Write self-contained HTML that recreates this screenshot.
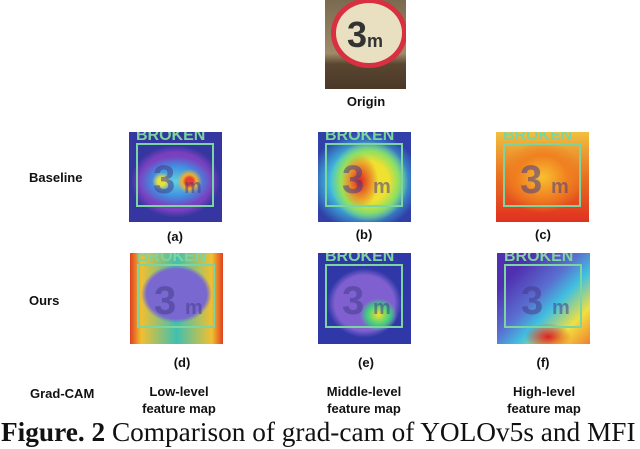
<!DOCTYPE html>
<html><head><meta charset="utf-8"><style>
body{margin:0;width:640px;height:449px;background:#fff;position:relative;overflow:hidden;font-family:"Liberation Sans",sans-serif}
.t{position:absolute;font-weight:bold;font-size:13px;color:#111;text-align:center;line-height:17px;white-space:nowrap}
.l{text-align:left}
.img{position:absolute;width:93px;height:90px;overflow:hidden;background:#3a3aa0}
.img .box{position:absolute;left:7px;top:11px;width:78px;height:64px;border:2px solid #7cd4a0;box-sizing:border-box}
.img .bk{position:absolute;left:7px;top:-5px;font-size:16px;font-weight:bold;color:#7cd4a0}
.img .n{position:absolute;left:24px;top:26px;font:bold 40px "Liberation Sans",sans-serif;color:rgba(70,60,140,.55)}
.img .m{position:absolute;left:55px;top:44px;font:bold 20px "Liberation Sans",sans-serif;color:rgba(70,60,140,.55)}
</style></head><body>
<div style="position:absolute;left:325px;top:0;width:81px;height:89px;background:linear-gradient(#7a6a50 0%,#a08a68 60%,#5a4630 72%,#4a3828 100%);overflow:hidden">
 <div style="position:absolute;left:6px;top:-2px;width:76px;height:70px;border-radius:50%;background:#e8e0c0;border:5px solid #d83040;box-sizing:border-box"></div>
 <div style="position:absolute;left:22px;top:14px;font:bold 36px 'Liberation Sans',sans-serif;color:#333">3<span style="font-size:18px">m</span></div>
</div>
<div class="t" style="left:326px;top:93px;width:80px">Origin</div>

<div class="t l" style="left:29px;top:169px">Baseline</div>
<div class="t l" style="left:29px;top:292px">Ours</div>
<div class="t l" style="left:30px;top:385px">Grad-CAM</div>

<div class="img" style="left:129px;top:132px;background:radial-gradient(circle at 35% 55%,#e8e040 0 5%,transparent 12%),radial-gradient(circle at 65% 55%,#e84030 0 5%,#f0b030 9%,transparent 16%),radial-gradient(ellipse 40% 28% at 50% 55%,#60d0e0 0,#4090e0 60%,transparent 100%),radial-gradient(ellipse 48% 40% at 50% 55%,#7a40c0 0 80%,transparent 100%),#3636a0"><div class="box"></div><div class="bk">BROKEN</div><div class="n">3</div><div class="m">m</div></div>
<div class="img" style="left:318px;top:132px;background:radial-gradient(ellipse 20% 30% at 45% 55%,#e02020 0,transparent 100%),radial-gradient(ellipse 42% 45% at 55% 55%,#f0e030 0 50%,#90e060 75%,transparent 100%),radial-gradient(ellipse 60% 55% at 50% 55%,#40c0e0 0 60%,transparent 100%),#3040a8"><div class="box"></div><div class="bk">BROKEN</div><div class="n">3</div><div class="m">m</div></div>
<div class="img" style="left:496px;top:132px;background:radial-gradient(ellipse 45% 40% at 50% 50%,#f8c030 0,#f08020 60%,transparent 100%),linear-gradient(#f0c040,#e87020 50%,#e03020 100%)"><div class="box"></div><div class="bk">BROKEN</div><div class="n">3</div><div class="m">m</div></div>
<div class="t" style="left:155px;top:228px;width:40px">(a)</div>
<div class="t" style="left:344px;top:226px;width:40px">(b)</div>
<div class="t" style="left:523px;top:226px;width:40px">(c)</div>

<div class="img" style="left:130px;top:253px;height:91px;background:radial-gradient(ellipse 38% 32% at 50% 45%,#7868d0 0 85%,transparent 100%),linear-gradient(90deg,#e04020,#f0c030 12%,#40c0b0 50%,#f0c030 88%,#e04020)"><div class="box"></div><div class="bk">BROKEN</div><div class="n">3</div><div class="m">m</div></div>
<div class="img" style="left:318px;top:253px;height:91px;background:radial-gradient(ellipse 20% 18% at 65% 68%,#f0e030 0,#40d080 60%,transparent 100%),radial-gradient(ellipse 40% 38% at 50% 55%,#8060d0 0 80%,transparent 100%),#3038a8"><div class="box"></div><div class="bk">BROKEN</div><div class="n">3</div><div class="m">m</div></div>
<div class="img" style="left:497px;top:253px;height:91px;background:radial-gradient(ellipse 25% 15% at 55% 92%,#e02020 0,transparent 100%),linear-gradient(135deg,#5030b0 20%,#5a70d0 45%,#40c0e0 60%,#f0e040 80%,#f08030);"><div class="box"></div><div class="bk">BROKEN</div><div class="n">3</div><div class="m">m</div></div>
<div class="t" style="left:162px;top:354px;width:40px">(d)</div>
<div class="t" style="left:346px;top:354px;width:40px">(e)</div>
<div class="t" style="left:523px;top:354px;width:40px">(f)</div>

<div class="t" style="left:119px;top:383px;width:120px">Low-level<br>feature map</div>
<div class="t" style="left:304px;top:383px;width:120px">Middle-level<br>feature map</div>
<div class="t" style="left:484px;top:383px;width:120px">High-level<br>feature map</div>

<div style="position:absolute;left:1px;top:417px;white-space:nowrap;font:27.3px 'Liberation Serif',serif;color:#111;line-height:31px"><b>Figure. 2</b> Comparison of grad-cam of YOLOv5s and MFI</div>
</body></html>
